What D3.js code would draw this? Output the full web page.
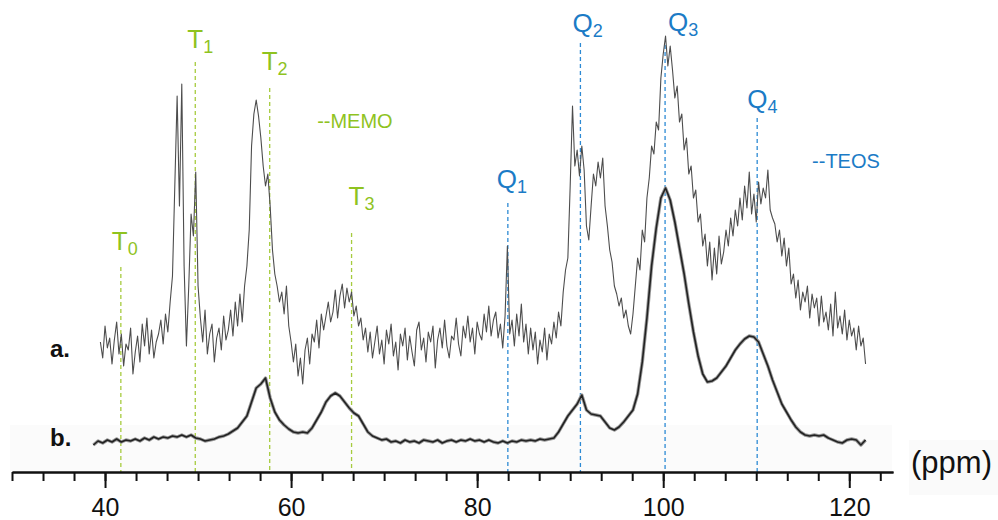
<!DOCTYPE html>
<html><head><meta charset="utf-8">
<script src="https://cdn.jsdelivr.net/npm/d3@7"></script>
<style>body{margin:0;background:#fff}svg{display:block}text{font-family:"Liberation Sans",Arial,sans-serif}</style>
</head><body><svg id="c" width="998" height="520"></svg>
<script>
// ---------- data ----------
const ppmStartA = 39.5, ppmStepA = 0.25;   // spectrum a sampling grid (ppm)
const spectrumA = [
2,-6,10,-1,4,-9,3,12,-4,6,
-10,1,-2,9,-14,-3,5,-8,11,0,
14,-4,8,-6,2,6,13,1,16,7,
22,35,80,125,70,131,40,0,30,66,
55,87,30,14,2,18,-4,6,11,-8,
4,9,-2,15,3,8,18,5,22,10,
26,12,30,40,58,100,116,123,115,104,
90,80,86,70,48,36,30,22,27,16,
30,10,2,-8,1,-15,-6,-19,-2,4,
-9,6,2,13,-1,16,8,15,22,12,
17,28,14,25,31,19,29,22,27,15,
20,10,14,3,9,-3,7,-6,2,10,
-4,3,-9,8,1,11,-5,2,-12,6,
0,9,-7,5,-3,-10,8,12,-2,4,
-8,7,2,10,-11,3,9,-1,13,0,
-6,5,3,14,1,-5,10,4,15,2,
9,-4,12,6,3,16,7,20,5,13,
17,4,11,-1,15,50,6,13,0,16,
5,21,2,11,-4,9,-2,7,-9,3,
-3,9,-7,6,1,12,4,17,10,27,
38,44,80,120,90,98,85,100,88,60,
53,70,86,80,92,84,94,70,60,48,
42,30,26,20,24,14,18,10,6,16,
30,44,38,58,52,74,84,100,96,112,
108,134,146,155,140,150,138,124,130,112,
116,98,104,86,90,74,78,62,66,50,
56,40,52,33,49,36,55,41,47,58,
50,64,55,68,60,74,63,80,69,87,
66,76,62,82,71,79,74,88,68,64,
61,52,58,45,54,40,49,31,36,24,
33,18,27,22,30,14,26,19,24,10,
25,12,17,8,21,5,27,9,15,6,
18,3,13,5,9,-2,10,0,4,-9
];
const ppmStartB = 38.75, ppmStepB = 0.5;   // spectrum b sampling grid (ppm)
const spectrumB = [
-1.5,0.5,-0.5,1,0,1.5,0,1,0.5,1.5,
0.5,2,1,2.5,1.5,2.5,2,3,2.5,3.5,
2.5,3.5,2,1.5,0.5,1,1.5,2.5,3,4,
5.5,7,10,13,20,27,29,32,22,15,
11,8.5,6.5,5,4.5,5,4.5,7,11,15,
20,23,24.5,23,20,17,14.5,13,9,5,
3,2,1,1.5,0,0.5,-0.5,1,0,0.5,
-0.5,1,0.5,0,1,-0.5,0.5,1,0,1,
0.5,1.5,0.5,1,0,1,0,-0.5,0.5,-0.5,
0.5,0,1,0.5,1,0.5,1.5,1,1.5,2,
5,9,13,16,19,23.5,16,14,13.5,13,
10,7,6,7.5,10,13,16,24,40,62,
88,107,122,127,121,110,97,84,69,55,
43,34,30,30.5,32,35,38,42,46,49,
51.5,53,52.5,50,44,38,31,25,19,15,
11,7.5,5,3.5,3,3.5,3,3.5,2,1,
0,-0.5,1,1.5,1,-1.5,1
];
const offsetA = 48;                          // vertical stacking offset of spectrum a

const peakNames   = ["T","T","T","T","Q","Q","Q","Q"];
const peakSubs    = ["0","1","2","3","1","2","3","4"];
const peakGroup   = ["MEMO","MEMO","MEMO","MEMO","TEOS","TEOS","TEOS","TEOS"];
const peakPpm     = [41.7,49.7,57.7,66.5,83.3,91.1,100.2,110.1];
const peakLineTop = [87.5,190,177,104.5,119.5,199.5,198.5,162];
const peakLabelAt = [96,197,186,118.5,127,205,205.5,167];

const groupNames  = ["--MEMO","--TEOS"];
const groupPpm    = [62.8,116.0];
const groupLevel  = [157,137];

const traceNames  = ["a.","b."];
const traceLevel  = [42.5,-2];

const majorTicks  = [40,60,80,100,120];
const axisTitle   = "(ppm)";

// ---------- layout ----------
const svg = d3.select("#c");
const x = d3.scaleLinear().domain([30,124.7]).range([12,893]);
const y = d3.scaleLinear().domain([0,200]).range([442,42]);
const axisY = 472;
const GREEN = "#8fc31f", GREEN_D = "#a6cb3e", BLUE = "#1b7bc6", BLUE_D = "#2d8ad4";
const colorOf = g => g === "MEMO" ? GREEN : BLUE;
const dashOf  = g => g === "MEMO" ? GREEN_D : BLUE_D;

// faint backgrounds of the original figure
svg.append("rect").attr("x",10).attr("y",425).attr("width",882).attr("height",46).attr("fill","#fbfbfb");
svg.append("rect").attr("x",909).attr("y",440).attr("width",89).attr("height",55).attr("fill","#fafafa");

// dashed reference lines
const peaks = peakPpm.map((p,i)=>({p, top:peakLineTop[i], lab:peakLabelAt[i], n:peakNames[i], s:peakSubs[i], g:peakGroup[i]}));
svg.append("g").selectAll("line").data(peaks).join("line")
  .attr("x1",d=>x(d.p)).attr("x2",d=>x(d.p))
  .attr("y1",d=>y(d.top)).attr("y2",axisY)
  .attr("stroke",d=>dashOf(d.g)).attr("stroke-width",1.3)
  .attr("stroke-dasharray","4,3");

// spectra
const dataA = spectrumA.map((v,i)=>({p: ppmStartA + i*ppmStepA, v: v + offsetA}));
const dataB = spectrumB.map((v,i)=>({p: ppmStartB + i*ppmStepB, v}));
const line = d3.line().x(d=>x(d.p)).y(d=>y(d.v));
svg.append("path").datum(dataB).attr("d",line).attr("fill","none")
  .attr("stroke","#9a9a9a").attr("stroke-width",3.4).attr("stroke-linejoin","round");
svg.append("path").datum(dataB).attr("d",line).attr("fill","none")
  .attr("stroke","#222").attr("stroke-width",1.6).attr("stroke-linejoin","round");
svg.append("path").datum(dataA).attr("d",line).attr("fill","none")
  .attr("stroke","#4d4d4d").attr("stroke-width",1.1).attr("stroke-linejoin","round");

// peak labels
const labelDx = [-9,-8,-8,-3,-11,-8,3,-10];
const pl = svg.append("g").selectAll("text").data(peaks).join("text")
  .attr("x",(d,i)=>x(d.p)+labelDx[i]).attr("y",d=>y(d.lab))
  .attr("fill",d=>colorOf(d.g)).attr("font-size",26);
pl.append("tspan").text(d=>d.n);
pl.append("tspan").attr("font-size",18).attr("dy",5).text(d=>d.s);

// group labels
svg.append("g").selectAll("text").data(groupNames).join("text")
  .attr("x",(d,i)=>x(groupPpm[i])).attr("y",(d,i)=>y(groupLevel[i]))
  .attr("fill",(d,i)=>i===0?GREEN:BLUE).attr("font-size",20).text(d=>d);

// trace labels
svg.append("g").selectAll("text").data(traceNames).join("text")
  .attr("x",50).attr("y",(d,i)=>y(traceLevel[i]))
  .attr("font-size",24).attr("font-weight","bold").attr("fill","#111").text(d=>d);

// axis
const minorTicks = d3.range(30,124,10/3);
const gMinor = svg.append("g").attr("transform",`translate(0,${axisY})`)
  .call(d3.axisBottom(x).tickValues(minorTicks).tickSize(9).tickSizeOuter(0).tickFormat(""));
const gMajor = svg.append("g").attr("transform",`translate(0,${axisY})`)
  .call(d3.axisBottom(x).tickValues(majorTicks).tickSize(16).tickSizeOuter(0).tickFormat(d3.format("d")));
[gMinor,gMajor].forEach(g=>{
  g.selectAll("path,line").attr("stroke","#111").attr("stroke-width",2);
});
gMajor.selectAll("text").attr("y",44).attr("dy",0).attr("font-size",25)
  .attr("font-family","Liberation Sans, Arial, sans-serif").attr("fill","#111");
svg.append("text").attr("x",911).attr("y",473).attr("font-size",31).attr("fill","#111").text(axisTitle);
</script>
</body></html>
